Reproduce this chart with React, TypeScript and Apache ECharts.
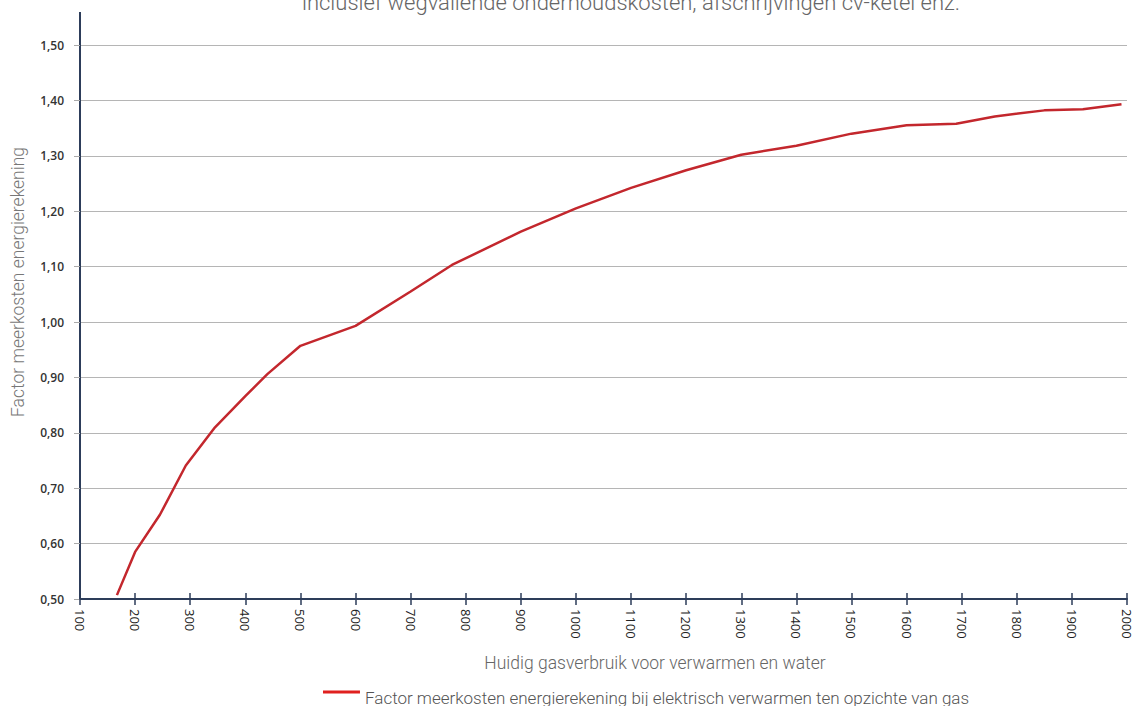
import React, { useEffect, useRef } from "react";
import * as echarts from "echarts";

const titleText = "inclusief wegvallende onderhoudskosten, afschrijvingen cv-ketel enz.";
const xAxisName = "Huidig gasverbruik voor verwarmen en water";
const yAxisName = "Factor meerkosten energierekening";
const seriesName = "Factor meerkosten energierekening bij elektrisch verwarmen ten opzichte van gas";

const gasUse = [167, 200, 245, 292, 345, 400, 440, 500, 600, 700, 775, 900, 1000, 1100, 1200, 1300, 1400, 1500, 1600, 1690, 1760, 1850, 1920, 1990];
const factor = [0.507, 0.585, 0.652, 0.741, 0.81, 0.866, 0.906, 0.957, 0.993, 1.055, 1.103, 1.163, 1.205, 1.242, 1.274, 1.302, 1.318, 1.34, 1.355, 1.358, 1.371, 1.382, 1.384, 1.393];

const fmt = (v: number) => v.toFixed(2).replace(".", ",");

export default function App() {
  const ref = useRef<HTMLDivElement>(null);
  useEffect(() => {
    if (!ref.current) return;
    const chart = echarts.init(ref.current, null, { renderer: "svg" });
    const axisColor = "#2d3d5a";
    const data = gasUse.map((x, i) => [x, factor[i]]);
    chart.setOption({
      animation: false,
      backgroundColor: "#ffffff",
      grid: { left: 80, right: 5, top: 45, bottom: 107, containLabel: false, outerBoundsMode: "none" },
      legend: {
        left: 318,
        top: 684,
        itemWidth: 37,
        itemHeight: 14,
        itemGap: 10,
        icon: "path://M0 0L37 0L37 3L0 3Z M0 14L0.01 14L0.01 14.01Z",
        textStyle: {
          fontFamily: "Roboto",
          fontSize: 17,
          color: "#555",
          fontWeight: 300,
        },
        data: [{ name: seriesName, itemStyle: { color: "#e0201f" } }],
      },
      xAxis: [
        {
          type: "value",
          min: 100,
          max: 2000,
          interval: 100,
          position: "bottom",
          axisLine: { show: true, onZero: false, lineStyle: { color: axisColor, width: 2 } },
          axisTick: { show: true, length: 6, lineStyle: { color: axisColor, width: 1.5 } },
          splitLine: { show: false },
          axisLabel: {
            rotate: -90,
            margin: 10,
            formatter: (v: number) => String(v),
            fontFamily: "Open Sans",
            fontSize: 13,
            color: "#222",
          },
        },
        {
          type: "value",
          min: 100,
          max: 2000,
          interval: 100,
          position: "bottom",
          offset: 0,
          axisLine: { show: false },
          axisTick: { show: true, inside: true, length: 6, lineStyle: { color: axisColor, width: 1.5 } },
          splitLine: { show: false },
          axisLabel: { show: false },
        },
      ],
      yAxis: {
        type: "value",
        min: 0.5,
        max: 1.5,
        interval: 0.1,
        axisLine: { show: true, onZero: false, lineStyle: { color: axisColor, width: 2 } },
        axisTick: { show: true, length: 6, lineStyle: { color: "#aaa" } },
        splitLine: { show: true, lineStyle: { color: "#b5b5b5", width: 1.2 } },
        axisLabel: {
          formatter: (v: number) => fmt(v),
          margin: 16,
          fontFamily: "Open Sans",
          fontSize: 12,
          fontWeight: 600,
          color: "#333",
        },
      },
      graphic: [
        {
          type: "line",
          shape: { x1: 80, y1: 12, x2: 80, y2: 46 },
          style: { stroke: axisColor, lineWidth: 2 },
        },
        {
          type: "text",
          x: 631,
          y: 13,
          style: {
            text: titleText,
            fontFamily: "Roboto",
            fontWeight: 300,
            fontSize: 22,
            fill: "#666",
            align: "center",
            verticalAlign: "bottom",
          },
        },
        {
          type: "text",
          x: 655,
          y: 663,
          style: {
            text: xAxisName,
            fontFamily: "Roboto",
            fontWeight: 300,
            fontSize: 17.5,
            fill: "#666",
            align: "center",
            verticalAlign: "middle",
          },
        },
        {
          type: "text",
          x: 18,
          y: 282,
          rotation: Math.PI / 2,
          style: {
            text: yAxisName,
            fontFamily: "Roboto",
            fontWeight: 300,
            fontSize: 17.5,
            fill: "#777",
            align: "center",
            verticalAlign: "middle",
          },
        },
      ],
      series: [
        {
          name: seriesName,
          type: "line",
          xAxisIndex: 0,
          data,
          showSymbol: false,
          symbol: "none",
          lineStyle: { color: "#c3272d", width: 2.5 },
          itemStyle: { color: "#c3272d" },
        },
      ],
    });
    return () => chart.dispose();
  }, []);
  return (
    <div
      ref={ref}
      style={{ position: "fixed", left: 0, top: 0, width: 1132, height: 706 }}
    />
  );
}
